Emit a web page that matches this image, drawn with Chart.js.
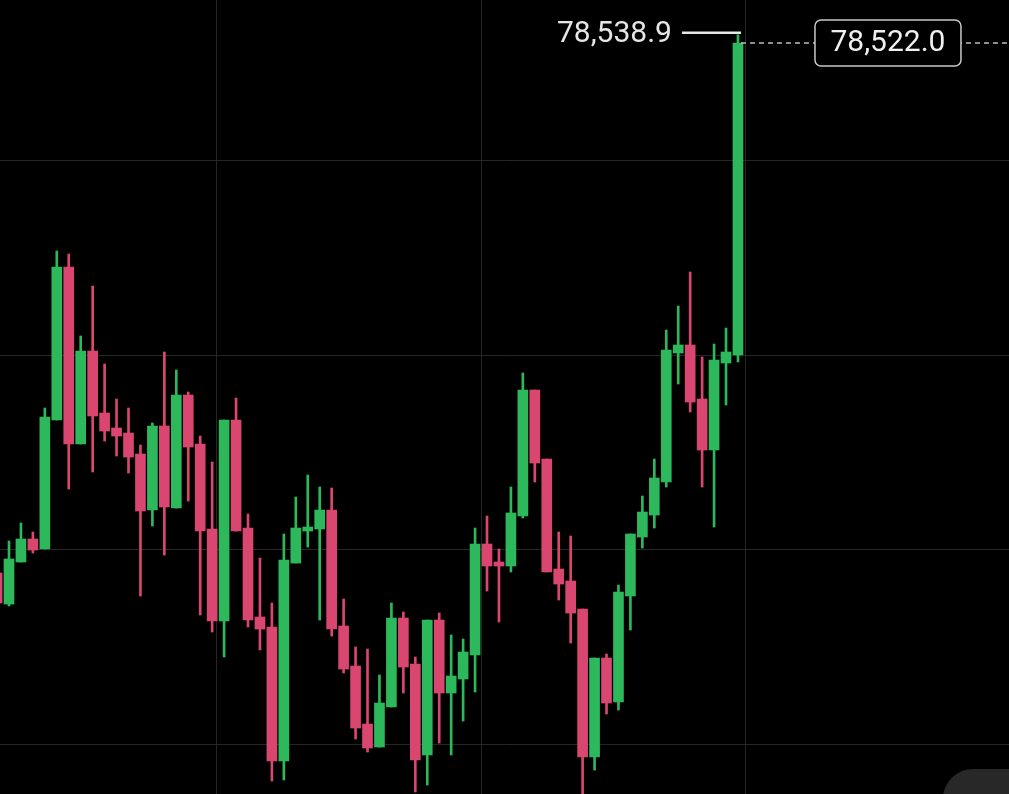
<!DOCTYPE html>
<html>
<head>
<meta charset="utf-8">
<script src="https://cdn.jsdelivr.net/npm/chart.js@4.4.1/dist/chart.umd.min.js"></script>
<style>
  html, body { margin: 0; padding: 0; background: #000; overflow: hidden; }
  #wrap { width: 1009px; height: 794px; position: relative; }
</style>
</head>
<body>
<div id="wrap"><canvas id="candles"></canvas></div>
<script>
// one candle per period, oldest first (first one is cut off at the left edge)
const opens = [
  77432.0, 77368.2, 77454.6, 77501.9, 77481.3, 77746.6, 78061.3, 77697.3, 77888.5, 77761.0,
  77730.2, 77719.9, 77676.7, 77561.5, 77734.3, 77565.6, 77798.0, 77697.3, 77522.5, 77333.2,
  77746.6, 77524.5, 77341.5, 77320.9, 77045.3, 77452.5, 77518.3, 77522.5, 77561.5, 77323.0,
  77240.7, 77121.4, 77074.1, 77156.4, 77339.4, 77244.8, 77057.7, 77335.3, 77185.2, 77214.0,
  77263.3, 77491.6, 77454.6, 77446.4, 77549.2, 77808.3, 77666.4, 77440.2, 77415.5, 77357.9,
  77053.6, 77257.2, 77166.7, 77384.7, 77506.0, 77551.2, 77619.1, 77884.4, 77900.9, 77789.8,
  77684.9, 77863.9, 77880.3
];
const highs = [
  77448.4, 77497.8, 77534.8, 77516.3, 77771.3, 78094.2, 78088.0, 77919.4, 78022.2, 77861.8,
  77789.8, 77771.3, 77695.2, 77740.5, 77886.5, 77849.5, 77804.2, 77713.7, 77660.3, 77746.6,
  77791.9, 77553.3, 77462.8, 77370.3, 77512.2, 77588.3, 77633.5, 77608.8, 77606.8, 77378.5,
  77279.8, 77275.7, 77222.2, 77370.3, 77351.8, 77259.2, 77335.3, 77349.7, 77304.5, 77296.2,
  77524.5, 77549.2, 77481.3, 77608.8, 77843.3, 77808.3, 77666.4, 77516.3, 77508.1, 77357.9,
  77257.2, 77265.4, 77407.3, 77512.2, 77590.3, 77666.4, 77931.7, 77981.1, 78051.0, 77876.2,
  77902.9, 77935.8, 78538.9
];
const lows = [
  77360.0, 77364.1, 77454.6, 77473.1, 77481.3, 77746.6, 77604.7, 77697.3, 77639.7, 77703.4,
  77672.6, 77637.6, 77384.7, 77528.6, 77469.0, 77565.6, 77580.0, 77345.6, 77310.6, 77259.2,
  77518.3, 77320.9, 77273.6, 77004.2, 77006.3, 77452.5, 77485.4, 77335.3, 77302.4, 77226.3,
  77090.6, 77063.8, 77074.1, 77156.4, 77185.2, 76981.6, 76996.0, 77082.3, 77057.7, 77127.6,
  77187.2, 77394.9, 77331.2, 77434.0, 77545.1, 77619.1, 77434.0, 77376.4, 77288.0, 76970.0,
  77026.8, 77142.0, 77150.2, 77314.7, 77483.4, 77524.5, 77608.8, 77820.7, 77763.1, 77608.8,
  77526.6, 77777.5, 77865.9
];
const closes = [
  77370.3, 77460.8, 77501.9, 77479.3, 77752.8, 78061.3, 77697.3, 77888.5, 77754.9, 77724.0,
  77713.7, 77670.5, 77559.5, 77734.3, 77567.7, 77798.0, 77691.1, 77518.3, 77333.2, 77746.6,
  77518.3, 77335.3, 77316.8, 77045.3, 77458.7, 77524.5, 77526.6, 77561.5, 77316.8, 77234.5,
  77113.2, 77072.1, 77164.6, 77339.4, 77238.6, 77047.4, 77335.3, 77185.2, 77220.1, 77269.5,
  77491.6, 77446.4, 77446.4, 77555.4, 77808.3, 77658.2, 77434.0, 77409.3, 77349.7, 77053.6,
  77257.2, 77164.6, 77392.9, 77512.2, 77557.4, 77627.3, 77890.6, 77900.9, 77783.6, 77684.9,
  77870.0, 77886.5, 78522.0
];

// grid lines (price levels and time marks, in candle units)
const priceGrid = [78280, 77880, 77480, 77080];
const timeGrid = [19.4, 41.5, 63.6];

const highMark = 78538.9;
const lastPrice = 78522.0;

const UP = '#2DB85C';
const DOWN = '#D94770';

const candleColors = opens.map((o, i) => closes[i] >= o ? UP : DOWN);
const bodies = opens.map((o, i) => ({ x: i + 1, y: [o, closes[i]] }));
const wicks = opens.map((o, i) => ({ x: i + 1, y: [lows[i], highs[i]] }));

const fmt = v => v.toLocaleString('en-US', { minimumFractionDigits: 1, maximumFractionDigits: 1 });

const markers = {
  id: 'markers',
  afterDatasetsDraw(chart) {
    const ctx = chart.ctx;
    const xs = chart.scales.x, ys = chart.scales.y;
    const lastX = xs.getPixelForValue(opens.length);
    const yHigh = ys.getPixelForValue(highMark);
    const yLast = ys.getPixelForValue(lastPrice);
    ctx.save();

    // high marker
    ctx.strokeStyle = '#e8e8e8';
    ctx.lineWidth = 2.5;
    ctx.beginPath();
    ctx.moveTo(lastX - 56, yHigh - 2);
    ctx.lineTo(lastX + 3, yHigh - 2);
    ctx.stroke();
    ctx.fillStyle = '#e6e6e6';
    ctx.font = '30px Roboto';
    ctx.textAlign = 'right';
    ctx.textBaseline = 'middle';
    ctx.fillText(fmt(highMark), lastX - 66, yHigh);

    // last price line + box
    ctx.strokeStyle = '#bdbdbd';
    ctx.lineWidth = 1.3;
    ctx.setLineDash([5, 4]);
    ctx.beginPath();
    ctx.moveTo(lastX + 3, yLast);
    ctx.lineTo(chart.chartArea.right, yLast);
    ctx.stroke();
    ctx.setLineDash([]);

    const bx = lastX + 77, bw = 146, bh = 46, by = yLast - bh / 2;
    ctx.fillStyle = '#000';
    ctx.strokeStyle = '#c8c8c8';
    ctx.lineWidth = 1.5;
    ctx.beginPath();
    ctx.roundRect(bx, by, bw, bh, 6);
    ctx.fill();
    ctx.stroke();
    ctx.fillStyle = '#f0f0f0';
    ctx.textAlign = 'center';
    ctx.fillText(fmt(lastPrice), bx + bw / 2, yLast + 1);

    // floating button peeking in at bottom right
    ctx.fillStyle = '#282828';
    ctx.beginPath();
    ctx.roundRect(943, 769, 120, 80, 30);
    ctx.fill();
    ctx.restore();
  }
};

new Chart(document.getElementById('candles'), {
  type: 'bar',
  data: {
    datasets: [
      {
        data: bodies,
        backgroundColor: candleColors,
        barThickness: 10,
        minBarLength: 2,
        grouped: false,
        order: 0
      },
      {
        data: wicks,
        backgroundColor: candleColors,
        barThickness: 2,
        grouped: false,
        order: 1
      }
    ]
  },
  options: {
    responsive: true,
    maintainAspectRatio: false,
    animation: false,
    layout: { padding: 0 },
    plugins: { legend: { display: false }, tooltip: { enabled: false } },
    scales: {
      x: {
        type: 'linear',
        min: 1.247,
        max: 85.68,
        offset: false,
        border: { display: false },
        grid: { color: '#262626', lineWidth: 1, drawTicks: false, offset: false },
        ticks: { display: false },
        afterBuildTicks: s => { s.ticks = timeGrid.map(v => ({ value: v })); },
        afterFit: s => { s.height = 0; }
      },
      y: {
        min: 76977.5,
        max: 78610.4,
        border: { display: false },
        grid: { color: '#262626', lineWidth: 1, drawTicks: false },
        ticks: { display: false },
        afterBuildTicks: s => { s.ticks = priceGrid.map(v => ({ value: v })); },
        afterFit: s => { s.width = 0; }
      }
    }
  },
  plugins: [markers]
});
</script>
</body>
</html>
